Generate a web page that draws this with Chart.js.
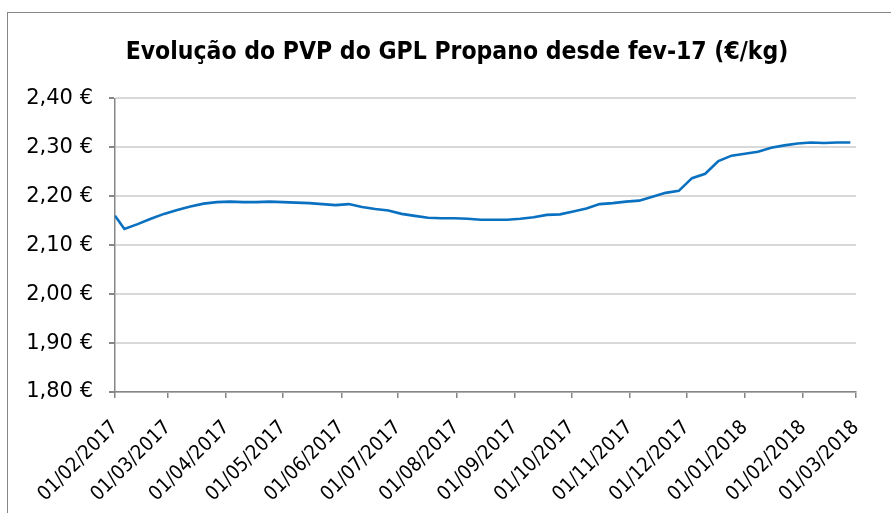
<!DOCTYPE html>
<html>
<head>
<meta charset="utf-8">
<script src="https://cdn.jsdelivr.net/npm/chart.js@4"></script>
<style>
  html, body { margin: 0; padding: 0; background: #fff; }
  #wrap { position: relative; width: 891px; height: 513px; overflow: hidden; }
  #frame { position: absolute; left: 7px; top: 12px; width: 900px; height: 520px; border: 1px solid #868686; }
  canvas { position: absolute; left: 0; top: 0; }
</style>
</head>
<body>
<div id="wrap">
  <div id="frame"></div>
  <canvas id="pvpChart" width="891" height="513"></canvas>
</div>
<script>
var chartTitle = 'Evolução do PVP do GPL Propano desde fev-17 (€/kg)';

// weekly prices (€/kg)
var dates = ['2017-02-01', '2017-02-06', '2017-02-13', '2017-02-20', '2017-02-27',
  '2017-03-06', '2017-03-13', '2017-03-20', '2017-03-27', '2017-04-03', '2017-04-10',
  '2017-04-17', '2017-04-24', '2017-05-01', '2017-05-08', '2017-05-15', '2017-05-22',
  '2017-05-29', '2017-06-05', '2017-06-12', '2017-06-19', '2017-06-26', '2017-07-03',
  '2017-07-10', '2017-07-17', '2017-07-24', '2017-07-31', '2017-08-07', '2017-08-14',
  '2017-08-21', '2017-08-28', '2017-09-04', '2017-09-11', '2017-09-18', '2017-09-25',
  '2017-10-02', '2017-10-09', '2017-10-16', '2017-10-23', '2017-10-30', '2017-11-06',
  '2017-11-13', '2017-11-20', '2017-11-27', '2017-12-04', '2017-12-11', '2017-12-18',
  '2017-12-25', '2018-01-01', '2018-01-08', '2018-01-15', '2018-01-22', '2018-01-29',
  '2018-02-05', '2018-02-12', '2018-02-19', '2018-02-26'];
var prices = [2.160, 2.133, 2.143, 2.154, 2.164,
  2.172, 2.179, 2.185, 2.188, 2.189, 2.188,
  2.188, 2.189, 2.188, 2.187, 2.186, 2.184,
  2.182, 2.184, 2.178, 2.174, 2.171, 2.164,
  2.160, 2.156, 2.155, 2.155, 2.154, 2.152,
  2.152, 2.152, 2.154, 2.157, 2.162, 2.163,
  2.169, 2.175, 2.184, 2.186, 2.189, 2.191,
  2.199, 2.207, 2.211, 2.237, 2.246, 2.272,
  2.283, 2.287, 2.291, 2.299, 2.304, 2.308,
  2.310, 2.309, 2.310, 2.310];

// x axis labels (month starts)
var monthTicks = ['2017-02-01', '2017-03-01', '2017-04-01', '2017-05-01', '2017-06-01',
  '2017-07-01', '2017-08-01', '2017-09-01', '2017-10-01', '2017-11-01', '2017-12-01',
  '2018-01-01', '2018-02-01', '2018-03-01'];
var yTicks = [1.8, 1.9, 2.0, 2.1, 2.2, 2.3, 2.4];

var origin = Date.UTC(2017, 1, 1);
function dayNum(s) {
  var p = s.split('-');
  return Math.round((Date.UTC(+p[0], +p[1] - 1, +p[2]) - origin) / 86400000);
}
function fmtDay(d) {
  var dt = new Date(origin + d * 86400000);
  var dd = String(dt.getUTCDate()).padStart(2, '0');
  var mm = String(dt.getUTCMonth() + 1).padStart(2, '0');
  return dd + '/' + mm + '/' + dt.getUTCFullYear();
}

var points = dates.map(function (d, i) { return { x: dayNum(d), y: prices[i] }; });
var tickDays = monthTicks.map(dayNum);

// title in the original sits a bit right of the plot centre
var shiftTitle = {
  id: 'shiftTitle',
  afterLayout: function (chart) {
    if (chart.titleBlock) {
      chart.titleBlock.left += 22;
      chart.titleBlock.right += 22;
    }
  }
};

var ctx = document.getElementById('pvpChart').getContext('2d');
var pvpChart = new Chart(ctx, {
  type: 'line',
  data: {
    datasets: [{
      data: points,
      borderColor: '#0a70c0',
      borderWidth: 2.6,
      pointRadius: 0,
      tension: 0,
      fill: false
    }]
  },
  plugins: [shiftTitle],
  options: {
    responsive: false,
    animation: false,
    layout: { padding: { left: 8, right: 29, top: 0, bottom: 0 } },
    plugins: {
      legend: { display: false },
      tooltip: { enabled: false },
      title: {
        display: true,
        text: chartTitle,
        color: '#000',
        font: { family: 'DejaVu Sans Condensed', size: 24.5, weight: 'bold' },
        padding: { top: 38, bottom: 31 }
      }
    },
    scales: {
      x: {
        type: 'linear',
        min: tickDays[0],
        max: tickDays[tickDays.length - 1],
        afterBuildTicks: function (scale) {
          scale.ticks = tickDays.map(function (v) { return { value: v }; });
        },
        afterFit: function (scale) { scale.height = 121; },
        ticks: {
          autoSkip: false,
          minRotation: 45,
          maxRotation: 45,
          padding: 18,
          color: '#000',
          font: { family: 'DejaVu Sans Condensed', size: 20 },
          callback: function (v) { return fmtDay(v); }
        },
        grid: { drawOnChartArea: false, color: '#868686', tickLength: 6, lineWidth: 1.5 },
        border: { color: '#868686', width: 1.5 }
      },
      y: {
        min: yTicks[0],
        max: yTicks[yTicks.length - 1],
        afterBuildTicks: function (scale) {
          scale.ticks = yTicks.map(function (v) { return { value: v }; });
        },
        afterFit: function (scale) { scale.width = 107; },
        ticks: {
          padding: 16,
          color: '#000',
          font: { family: 'DejaVu Sans', size: 21 },
          callback: function (v) { return v.toFixed(2).replace('.', ',') + ' €'; }
        },
        grid: { color: '#d9d9d9', lineWidth: 2, tickLength: 6, tickColor: '#868686' },
        border: { color: '#868686', width: 1.5 }
      }
    }
  }
});
</script>
</body>
</html>
